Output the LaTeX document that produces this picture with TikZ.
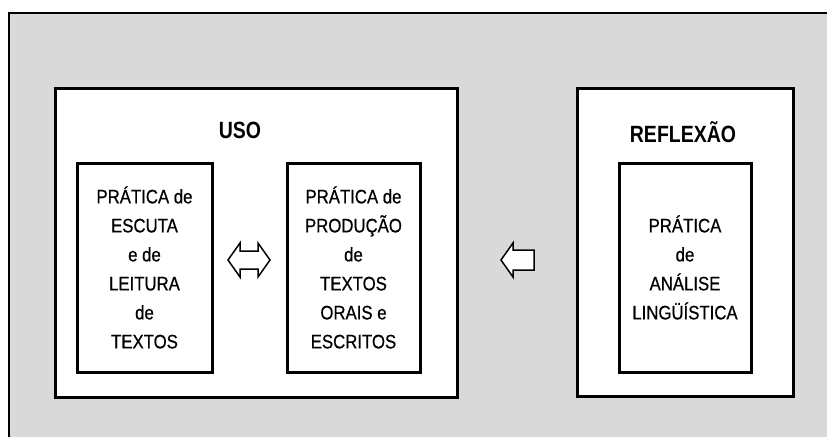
\documentclass[tikz,border=0pt]{standalone}
\usepackage{fontspec}
\setmainfont{Liberation Sans}
\newfontfamily\bodyfont[FakeStretch=0.86,FakeBold=0.6]{Liberation Sans}
\newfontfamily\titlefont[FakeStretch=0.83]{Liberation Sans Bold}
\definecolor{bggray}{HTML}{D9D9D9}
\begin{document}
\begin{tikzpicture}[x=1pt,y=-1pt,
  outerbox/.style={draw=black, line width=3pt, fill=white, inner sep=0pt},
  innerbox/.style={draw=black, line width=3pt, fill=white, inner sep=0pt,
    minimum height=209pt, align=center, font=\bodyfont\fontsize{19.5}{29}\selectfont},
  titletext/.style={inner sep=0pt, font=\titlefont\fontsize{23.5}{28}\selectfont},
  arrowshape/.style={draw=black, line width=1.5pt, fill=white, line join=miter}]
\useasboundingbox (0,0) rectangle (827,437);
\fill[white] (0,0) rectangle (827,437);
\fill[bggray] (9,13) rectangle (827,437);
\draw[line width=2pt] (9,437) -- (9,13) -- (827,13);

\node[outerbox, minimum width=402pt, minimum height=309pt] (uso) at (256,242.5) {};
\node[outerbox, minimum width=216pt, minimum height=308pt] (refl) at (685,242) {};

\node[titletext] (usot) at (240,130) {USO};
\node[titletext] (reflt) at (683,132) {REFLEXÃO};

\node[innerbox, minimum width=135pt] (escuta) at (144.5,267.5)
  {PRÁTICA de\\ESCUTA\\e de\\LEITURA\\de\\TEXTOS};
\node[innerbox, minimum width=133pt] (producao) at (353.5,267.5)
  {PRÁTICA de\\PRODUÇÃO\\de\\TEXTOS\\ORAIS e\\ESCRITOS};
\node[innerbox, minimum width=132pt] (analise) at (685,267.5)
  {PRÁTICA\\de\\ANÁLISE\\LINGÜÍSTICA};

% double arrow between the two practices
\coordinate (da) at (249,260);
\draw[arrowshape] (da) ++(-21,0) -- ++(12,-17) -- ++(0,8) -- ++(18,0) -- ++(0,-8)
  -- ++(12,17) -- ++(-12,17) -- ++(0,-8) -- ++(-18,0) -- ++(0,8) -- cycle;

% single left arrow between REFLEXÃO and USO
\coordinate (la) at (517.5,260);
\draw[arrowshape] (la) ++(-16.5,0) -- ++(12,-17) -- ++(0,7) -- ++(21,0) -- ++(0,20)
  -- ++(-21,0) -- ++(0,7) -- cycle;
\end{tikzpicture}
\end{document}
